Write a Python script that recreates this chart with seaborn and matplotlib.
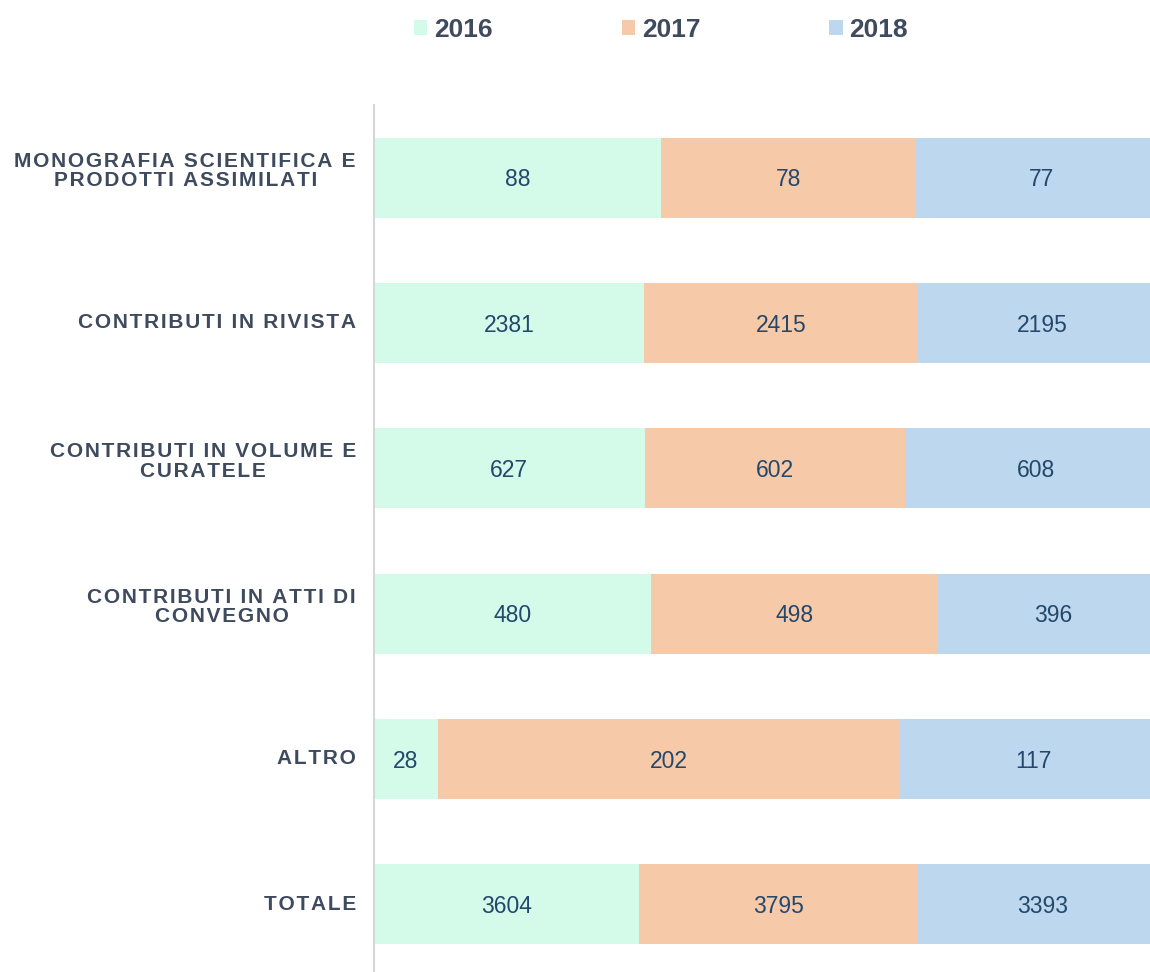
import seaborn as sns
import pandas as pd
import matplotlib.pyplot as plt
import matplotlib.transforms as mtransforms
from matplotlib.patches import Patch

# data
categories = [
    'MONOGRAFIA SCIENTIFICA E\nPRODOTTI ASSIMILATI',
    'CONTRIBUTI IN RIVISTA',
    'CONTRIBUTI IN VOLUME E\nCURATELE',
    'CONTRIBUTI IN ATTI DI\nCONVEGNO',
    'ALTRO',
    'TOTALE',
]
years = ['2016', '2017', '2018']
values_2016 = [88, 2381, 627, 480, 28, 3604]
values_2017 = [78, 2415, 602, 498, 202, 3795]
values_2018 = [77, 2195, 608, 396, 117, 3393]
colors = ['#d4fbe9', '#f6c9a9', '#bdd7ee']

TEXT = '#3e4a5d'
VALUE = '#23486c'


def spaced(s, sep='\u200a'):
    """Fake letter spacing with hair spaces."""
    return '\n'.join(sep.join(line) for line in s.split('\n'))


sns.set_style('white')
plt.rcParams['font.family'] = ['Liberation Sans', 'DejaVu Sans']

df = pd.DataFrame({'categoria': categories,
                   '2016': values_2016,
                   '2017': values_2017,
                   '2018': values_2018})
# shares of each year within a row (100% stacked)
tot = df[years].sum(axis=1)
share = df[years].div(tot, axis=0)
cum = share.cumsum(axis=1)
cum['categoria'] = df['categoria']

fig = plt.figure(figsize=(11.5, 9.72), dpi=100)
ax = fig.add_axes([374 / 1150, -5 / 972, 1 - 374 / 1150, (972 - 105 + 5) / 972])

# draw the widest cumulative layer first so shorter ones sit on top
for year, color in reversed(list(zip(years, colors))):
    sns.barplot(data=cum, x=year, y='categoria', color=color,
                orient='h', width=0.55, saturation=1, linewidth=0, ax=ax)

# value labels in the middle of each segment
for i in range(len(categories)):
    left = 0
    for year in years:
        right = cum.loc[i, year]
        ax.text((left + right) / 2, i + 0.015, str(df.loc[i, year]),
                ha='center', va='center', fontsize=16.5, color=VALUE)
        left = right

ax.set_xlim(0, 776 / 793)
ax.set_ylim(len(categories) - 0.5, -0.5)
ax.set_xlabel('')
ax.set_ylabel('')
ax.set_xticks([])
ax.set_yticks(range(len(categories)))
ax.set_yticklabels([spaced(c) for c in categories], fontsize=15,
                   fontweight='bold', color=TEXT, multialignment='center',
                   linespacing=1.03)
ax.tick_params(axis='y', length=0, pad=13)
# two-line labels sit a little higher than the bar centre
for lab in ax.get_yticklabels():
    dy = 6.5 if '\n' in lab.get_text() else 1.5
    lab.set_transform(lab.get_transform() + mtransforms.ScaledTranslation(
        0, dy / 72, fig.dpi_scale_trans))
for side in ['top', 'right', 'bottom']:
    ax.spines[side].set_visible(False)
ax.spines['left'].set_color('#d6d6d6')
ax.spines['left'].set_linewidth(1.5)

handles = [Patch(facecolor=c, edgecolor='none', label=y)
           for y, c in zip(years, colors)]
leg = fig.legend(handles=handles, loc='center', ncol=3,
                 bbox_to_anchor=(661 / 1150, 1 - 30 / 972),
                 frameon=False, handlelength=0.5, handleheight=0.5,
                 handletextpad=0.25, columnspacing=4.9,
                 prop={'size': 19, 'weight': 'bold'})
for t in leg.get_texts():
    t.set_color(TEXT)

plt.savefig('out.png', dpi=100)
